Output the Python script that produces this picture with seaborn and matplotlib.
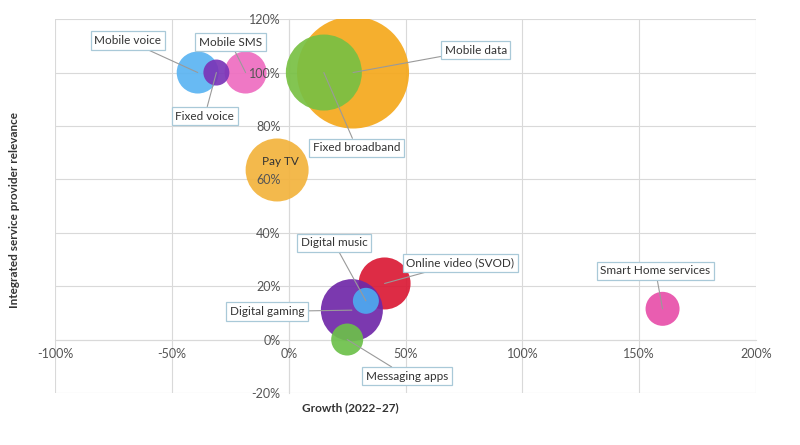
import pandas as pd
import seaborn as sns
import matplotlib.pyplot as plt

# Bubble data (growth %, relevance %, bubble size)
services = ['Mobile data', 'Fixed broadband', 'Mobile voice', 'Mobile SMS', 'Fixed voice',
            'Pay TV', 'Online video (SVOD)', 'Digital gaming', 'Digital music',
            'Messaging apps', 'Smart Home services']
growth = [27.5, 15, -39, -18.5, -31, -5, 41, 27, 33, 25, 160]
relevance = [100, 100, 100, 100, 100, 63.5, 21, 11, 14.5, 0, 11.5]
bubble_size = [3136, 1444, 441, 441, 169, 992, 676, 961, 169, 256, 289]
colors = ['#F5A81C', '#78C043', '#5BB4F2', '#EE6DC0', '#7A35B8',
          '#F3B33D', '#DA1A35', '#7028A8', '#4DAAF0', '#6CC04A', '#E84FAA']

# label text positions (data coords)
label_x = [80, 29, -69, -25, -36, -3.4, 73.4, -9.4, 19.3, 50.6, 157]
label_y = [108.4, 71.8, 112, 111.4, 83.7, 66.5, 28.8, 10.5, 36.3, -13.8, 25.8]

xticks = [-100, -50, 0, 50, 100, 150, 200]
yticks = [-20, 0, 20, 40, 60, 80, 100, 120]

df = pd.DataFrame({'service': services, 'growth': growth,
                   'relevance': relevance, 'size': bubble_size})

sns.set_theme(style="white")
plt.rcParams['font.family'] = ['Lato', 'DejaVu Sans']

fig = plt.figure(figsize=(8, 4.45), dpi=100)
ax = fig.add_axes([0.069, 0.117, 0.876, 0.840])

grid_c = '#D9D9D9'
for xv in xticks:
    ax.axvline(xv, color=grid_c, lw=0.8, zorder=0)
for yv in yticks:
    ax.axhline(yv, color=grid_c, lw=0.8, zorder=0)

smax = max(bubble_size)
sns.scatterplot(data=df, x='growth', y='relevance', hue='service', size='size',
                palette=dict(zip(services, colors)), sizes=(0, 2.0736 * smax),
                size_norm=(0, smax), legend=False, linewidth=0, alpha=0.92,
                ax=ax, zorder=1)

ax.set_axisbelow(False)
ax.set_xlim(-100, 200)
ax.set_ylim(-20, 120)
ax.set_xticks(xticks)
ax.set_yticks(yticks)
ax.set_xticklabels([f'{v}%' for v in xticks])
ax.set_yticklabels([f'{v}%' for v in yticks])
ax.spines['left'].set_position(('data', 0))
ax.spines['bottom'].set_position(('data', 0))
for s in ['top', 'right']:
    ax.spines[s].set_visible(False)
for s in ['left', 'bottom']:
    ax.spines[s].set_color(grid_c)
    ax.spines[s].set_linewidth(0.8)
    ax.spines[s].set_zorder(0)
ax.tick_params(length=0, labelsize=9, labelcolor='#555555', pad=6)
ax.set_xlabel('')
ax.set_ylabel('')

for i, name in enumerate(services):
    if name == 'Pay TV':
        ax.text(label_x[i], label_y[i], name, ha='center', va='center',
                fontsize=8.5, color='#333333', zorder=5)
        continue
    ax.annotate(name, xy=(growth[i], relevance[i]), xytext=(label_x[i], label_y[i]),
                ha='center', va='center', fontsize=8.5, color='#333333', zorder=5,
                bbox=dict(boxstyle='square,pad=0.3', fc='white', ec='#A9C9D8', lw=0.9),
                arrowprops=dict(arrowstyle='-', color='#9A9A9A', lw=0.8,
                                shrinkA=0, shrinkB=0))

fig.text(350 / 800, 1 - 408 / 445, 'Growth (2022–27)', ha='center', va='center',
         fontsize=8.5, fontweight='bold', color='#333333')
fig.text(15 / 800, 1 - 210 / 445, 'Integrated service provider relevance', ha='center',
         va='center', rotation=90, fontsize=8.5, fontweight='bold', color='#333333')

fig.savefig('out.png', dpi=100)
